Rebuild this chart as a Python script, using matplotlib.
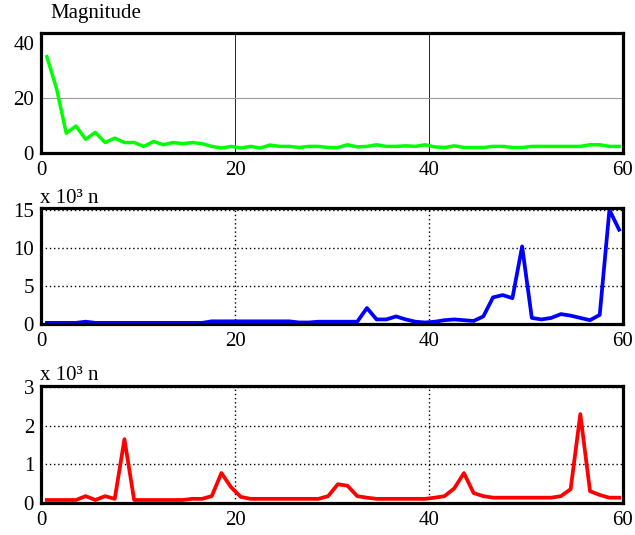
import numpy as np
import matplotlib
matplotlib.use('Agg')
import matplotlib.pyplot as plt

plt.rcParams['font.family'] = 'serif'
plt.rcParams['font.serif'] = ['Liberation Serif', 'DejaVu Serif']

# sample positions (bin index, drawn a little right of the integer)
n_idx = np.arange(60) + 0.6

magnitude = [35.0, 23.4, 7.2, 9.8, 5.0, 7.5, 3.8, 5.4, 3.8, 3.8,
             2.4, 4.2, 3.0, 3.8, 3.4, 3.8, 3.4, 2.4, 1.8, 2.4,
             1.8, 2.4, 1.8, 2.9, 2.4, 2.4, 2.0, 2.4, 2.4, 2.0,
             2.0, 3.0, 2.2, 2.4, 3.0, 2.4, 2.4, 2.6, 2.4, 3.0,
             2.2, 2.0, 2.6, 2.0, 2.0, 2.0, 2.4, 2.4, 2.0, 2.0,
             2.4, 2.4, 2.4, 2.4, 2.4, 2.4, 3.0, 3.0, 2.4, 2.4]

blue_vals = [0.15, 0.15, 0.15, 0.15, 0.3, 0.15, 0.15, 0.15, 0.15, 0.15,
             0.15, 0.15, 0.15, 0.15, 0.15, 0.15, 0.15, 0.35, 0.35, 0.35,
             0.35, 0.35, 0.35, 0.35, 0.35, 0.35, 0.2, 0.2, 0.3, 0.3,
             0.3, 0.3, 0.3, 2.1, 0.6, 0.6, 1.0, 0.6, 0.3, 0.2,
             0.3, 0.5, 0.6, 0.5, 0.4, 1.0, 3.5, 3.8, 3.4, 10.2,
             0.8, 0.6, 0.8, 1.3, 1.1, 0.8, 0.5, 1.2, 15.0, 12.4]

red_vals = [0.07, 0.07, 0.07, 0.07, 0.17, 0.07, 0.17, 0.1, 1.65, 0.07,
            0.07, 0.07, 0.07, 0.07, 0.07, 0.1, 0.1, 0.17, 0.77, 0.4,
            0.15, 0.1, 0.1, 0.1, 0.1, 0.1, 0.1, 0.1, 0.1, 0.17,
            0.48, 0.44, 0.17, 0.13, 0.1, 0.1, 0.1, 0.1, 0.1, 0.1,
            0.13, 0.17, 0.37, 0.77, 0.25, 0.17, 0.13, 0.13, 0.13, 0.13,
            0.13, 0.13, 0.13, 0.17, 0.35, 2.3, 0.3, 0.2, 0.13, 0.13]

x_ticks = [0, 20, 40, 60]


def style_axes(ax, yticks, ytop):
    ax.set_xlim(0, 60)
    ax.set_ylim(0, ytop)
    ax.set_xticks(x_ticks)
    ax.set_yticks(yticks)
    ax.tick_params(length=0, labelsize=15)
    ax.tick_params(axis='x', pad=6)
    ax.tick_params(axis='y', pad=5)
    for s in ax.spines.values():
        s.set_linewidth(2.3)
        s.set_color('black')
        s.set_zorder(5)


fig = plt.figure(figsize=(6.35, 5.35), dpi=100)

ax1 = fig.add_axes([0.0646, 0.714, 0.9165, 0.2243])
style_axes(ax1, [0, 20, 40], 43.6)
for xv in (20, 40):
    ax1.axvline(xv, color='black', lw=0.6, zorder=0)
ax1.axhline(20, color='#999999', lw=0.8, zorder=0)
ax1.plot(n_idx, magnitude, color='#00ff00', lw=2.5, solid_joinstyle='round')
fig.text(0.079, 0.966, 'Magnitude', fontsize=15, va='baseline')

ax2 = fig.add_axes([0.0646, 0.3944, 0.9165, 0.2168])
style_axes(ax2, [0, 5, 10, 15], 15.25)
ax2.grid(True, color='black', lw=1.0, ls=(0, (1, 2)))
ax2.plot(n_idx, blue_vals, color='#0000ff', lw=2.7, solid_joinstyle='round')
fig.text(0.063, 0.6206, 'x 10³ n', fontsize=15, va='baseline')

ax3 = fig.add_axes([0.0646, 0.0604, 0.9165, 0.2187])
style_axes(ax3, [0, 1, 2, 3], 3.04)
ax3.grid(True, color='black', lw=1.0, ls=(0, (1, 2)))
ax3.plot(n_idx, red_vals, color='#ff0000', lw=2.7, solid_joinstyle='round')
fig.text(0.063, 0.2897, 'x 10³ n', fontsize=15, va='baseline')

for ax in (ax1, ax2, ax3):
    ax.set_axisbelow(True)

plt.savefig('out.png', dpi=100)
